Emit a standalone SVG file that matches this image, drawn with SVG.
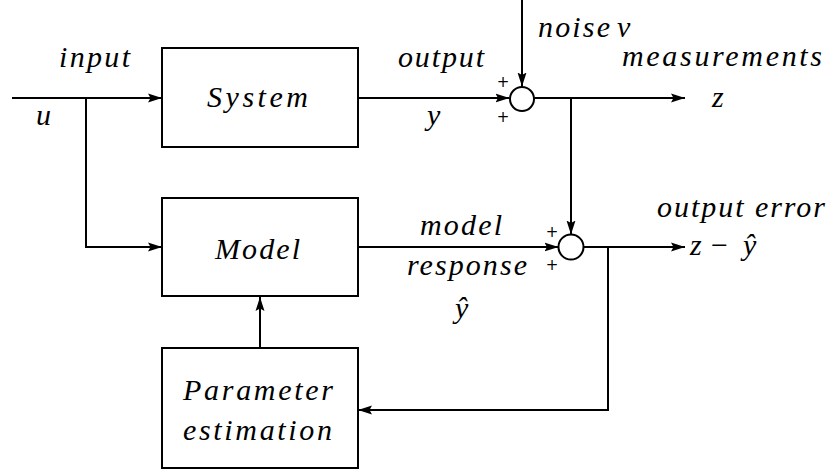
<svg xmlns="http://www.w3.org/2000/svg" width="830" height="472" viewBox="0 0 830 472">
  <style>
    .box { fill: #ffffff; stroke: #000000; stroke-width: 2; }
    .sum { fill: #ffffff; stroke: #000000; stroke-width: 2; }
    .wire { fill: none; stroke: #000000; stroke-width: 2; }
    .arrow { marker-end: url(#head); }
    .sign { font-family: "DejaVu Sans", sans-serif; font-size: 15px; fill: #000000; text-anchor: middle; }
  </style>
  <defs>
    <marker id="head" markerUnits="userSpaceOnUse" markerWidth="15" markerHeight="11" refX="14" refY="5.5" orient="auto">
      <path d="M0,1 L14,5.5 L0,10 L2.5,5.5 Z" fill="#000000"/>
    </marker>
  </defs>

  <!-- connectors -->
  <g id="connectors">
    <!-- input u to System, with branch to Model -->
    <path class="wire arrow" d="M12,98 H162"/>
    <path class="wire arrow" d="M86,98 V247 H162"/>
    <!-- System output y to first summing junction -->
    <path class="wire arrow" d="M358,98 H509.5"/>
    <!-- noise into first summing junction -->
    <path class="wire arrow" d="M522,0 V86.5"/>
    <!-- measurements z -->
    <path class="wire arrow" d="M534,98 H685"/>
    <!-- z down to second summing junction -->
    <path class="wire arrow" d="M571,98 V234.5"/>
    <!-- model response to second summing junction -->
    <path class="wire arrow" d="M358,247 H558.5"/>
    <!-- output error -->
    <path class="wire arrow" d="M583.5,247 H685"/>
    <!-- feedback to parameter estimation -->
    <path class="wire arrow" d="M608,247 V410 H358"/>
    <!-- parameter estimation to Model -->
    <path class="wire arrow" d="M260,348 V297"/>
  </g>

  <g font-family="Liberation Serif, Times New Roman, serif" font-style="italic" font-size="30" fill="#000000">
    <!-- nodes -->
    <g id="system">
      <rect class="box" x="162" y="48" width="196" height="99"/>
      <text x="207" y="107" textLength="101">System</text>
    </g>

    <g id="model">
      <rect class="box" x="162" y="198" width="196" height="98"/>
      <text x="215" y="259" textLength="85">Model</text>
    </g>

    <g id="parameter-estimation">
      <rect class="box" x="162" y="348" width="196" height="120"/>
      <text x="183" y="400" textLength="150">Parameter</text>
      <text x="183" y="440" textLength="149">estimation</text>
    </g>

    <!-- signal labels -->
    <g id="labels">
      <text x="59" y="67" textLength="71">input</text>
      <text x="36" y="125" textLength="14">u</text>
      <text x="398" y="67" textLength="86">output</text>
      <text x="427" y="125" textLength="15">y</text>
      <text x="538" y="37" textLength="72">noise</text>
      <text x="617" y="37" textLength="23">ν</text>
      <text x="622" y="66" textLength="200">measurements</text>
      <text x="712" y="107" textLength="11">z</text>
      <text x="420" y="235" textLength="82">model</text>
      <text x="407" y="275" textLength="120">response</text>
      <text x="455" y="318" textLength="15">ŷ</text>
      <text x="657" y="217" textLength="168">output error</text>
      <text x="690" y="255" textLength="12">z</text>
      <text x="711" y="255" font-style="normal">−</text>
      <text x="743" y="255" textLength="15">ŷ</text>
    </g>
  </g>

  <g id="sum-measurement">
    <circle class="sum" cx="522" cy="99" r="12"/>
    <text class="sign" x="503" y="87">+</text>
    <text class="sign" x="503" y="122">+</text>
  </g>

  <g id="sum-error">
    <circle class="sum" cx="571" cy="247" r="12.5"/>
    <text class="sign" x="552" y="237">+</text>
    <text class="sign" x="552" y="270">+</text>
  </g>
</svg>
